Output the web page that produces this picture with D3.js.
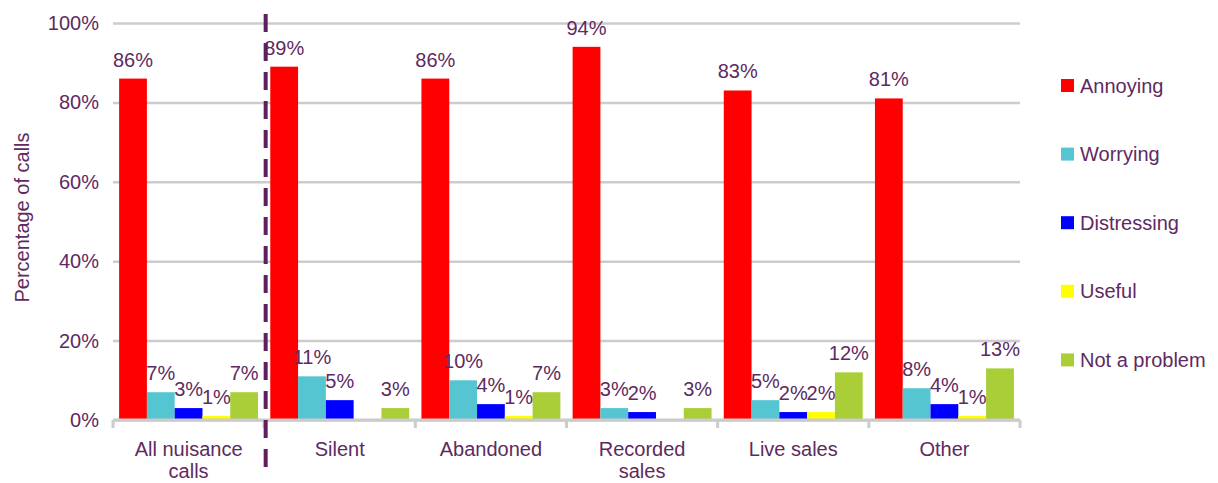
<!DOCTYPE html>
<html>
<head>
<meta charset="utf-8">
<script src="https://cdn.jsdelivr.net/npm/d3@7"></script>
<style>
  html, body { margin: 0; padding: 0; background: #fff; }
  svg text { font-family: "Liberation Sans", Arial, sans-serif; }
</style>
</head>
<body>
<svg id="chart" width="1218" height="483"></svg>
<script>
// Call categories along the x axis
const categories = ["All nuisance calls", "Silent", "Abandoned", "Recorded sales", "Live sales", "Other"];

// Reaction series (percent of calls per category)
const seriesNames = ["Annoying", "Worrying", "Distressing", "Useful", "Not a problem"];
const annoying    = [86, 89, 86, 94, 83, 81];
const worrying    = [7, 11, 10, 3, 5, 8];
const distressing = [3, 5, 4, 2, 2, 4];
const useful      = [1, 0, 1, 0, 2, 1];
const notProblem  = [7, 3, 7, 3, 12, 13];

const seriesColors = ["#ff0000", "#56c5d2", "#0000ff", "#ffff00", "#a9ce38"];
const yTicks = [0, 20, 40, 60, 80, 100];

const values = [annoying, worrying, distressing, useful, notProblem];
const textColor = "#5e2a61";
const gridColor = "#cccccc";

const margin = { left: 113, right: 198, top: 23, bottom: 63 };
const W = 1218, H = 483;
const innerW = W - margin.left - margin.right;
const innerH = H - margin.top - margin.bottom;

const svg = d3.select("#chart");
const g = svg.append("g").attr("transform", `translate(${margin.left},${margin.top})`);

const x0 = d3.scaleBand().domain(categories).range([0, innerW]).padding(0);
const x1 = d3.scaleBand().domain(seriesNames).range([0, x0.bandwidth()]).paddingInner(0).paddingOuter(0.22);
const y = d3.scaleLinear().domain([0, 100]).range([innerH, 0]);

// Horizontal gridlines with percentage tick labels
const yAxis = g.append("g")
  .call(d3.axisLeft(y).tickValues(yTicks).tickSize(-innerW).tickPadding(14).tickFormat(d => d + "%"));
yAxis.select(".domain").remove();
yAxis.selectAll(".tick line").attr("stroke", gridColor).attr("stroke-width", 2.5);
yAxis.selectAll(".tick text").attr("fill", textColor).style("font-size", "20px");

// Y axis title
svg.append("text")
  .attr("transform", `translate(29,${margin.top + innerH / 2 - 4}) rotate(-90)`)
  .attr("text-anchor", "middle")
  .attr("fill", textColor)
  .style("font-size", "20px")
  .text("Percentage of calls");

// Bars
const rows = categories.map((c, i) => ({
  category: c,
  items: seriesNames.map((s, j) => ({ series: s, value: values[j][i], color: seriesColors[j] }))
}));

const groups = g.selectAll("g.cat").data(rows).join("g")
  .attr("class", "cat")
  .attr("transform", d => `translate(${x0(d.category)},0)`);

groups.selectAll("rect").data(d => d.items.filter(v => v.value > 0)).join("rect")
  .attr("x", d => x1(d.series))
  .attr("width", x1.bandwidth())
  .attr("y", d => y(d.value))
  .attr("height", d => innerH - y(d.value))
  .attr("fill", d => d.color);

// Value labels above bars
groups.selectAll("text.val").data(d => d.items.filter(v => v.value > 0)).join("text")
  .attr("class", "val")
  .attr("x", d => x1(d.series) + x1.bandwidth() / 2)
  .attr("y", d => y(d.value) - 12)
  .attr("text-anchor", "middle")
  .attr("fill", textColor)
  .style("font-size", "20px")
  .text(d => d.value + "%");

// Category axis along the bottom
const xAxis = g.append("g").attr("transform", `translate(0,${innerH})`);
xAxis.append("line")
  .attr("x1", 0).attr("x2", innerW)
  .attr("stroke", gridColor).attr("stroke-width", 3);
const boundaries = categories.map(c => x0(c)).concat([innerW]);
xAxis.selectAll("line.tick").data(boundaries).join("line")
  .attr("class", "tick")
  .attr("x1", d => d).attr("x2", d => d)
  .attr("y1", 0).attr("y2", 8)
  .attr("stroke", gridColor).attr("stroke-width", 3);

// Category labels, wrapped onto a second line when too wide
const catLabels = xAxis.selectAll("text.cat").data(categories).join("text")
  .attr("class", "cat")
  .attr("text-anchor", "middle")
  .attr("fill", textColor)
  .style("font-size", "20px")
  .attr("transform", d => `translate(${x0(d) + x0.bandwidth() / 2},36)`);

catLabels.each(function (d) {
  const t = d3.select(this);
  const words = d.split(" ");
  const lines = [];
  let line = [];
  const probe = t.append("tspan");
  words.forEach(w => {
    const attempt = line.concat([w]).join(" ");
    probe.text(attempt);
    if (probe.node().getComputedTextLength() > 120 && line.length) {
      lines.push(line.join(" "));
      line = [w];
    } else {
      line.push(w);
    }
  });
  lines.push(line.join(" "));
  probe.remove();
  lines.forEach((l, i) => {
    t.append("tspan").attr("x", 0).attr("dy", i === 0 ? 0 : 22).text(l);
  });
});

// Dashed separator between the overall figure and the call types
const sepX = margin.left + x0(categories[1]) + 1.5;
svg.append("line")
  .attr("x1", sepX).attr("x2", sepX)
  .attr("y1", 14).attr("y2", 478)
  .attr("stroke", "#5e1f5e")
  .attr("stroke-width", 4)
  .attr("stroke-dasharray", "18,11");

// Legend
const legend = svg.append("g").attr("transform", "translate(1061,85.5)");
const li = legend.selectAll("g").data(seriesNames).join("g")
  .attr("transform", (d, i) => `translate(0,${i * 68.6})`);
li.append("rect")
  .attr("x", 0).attr("y", -6.5).attr("width", 13).attr("height", 13)
  .attr("fill", (d, i) => seriesColors[i]);
li.append("text")
  .attr("x", 19).attr("y", 0).attr("dy", "0.35em")
  .attr("fill", textColor)
  .style("font-size", "20px")
  .text(d => d);
</script>
</body>
</html>
